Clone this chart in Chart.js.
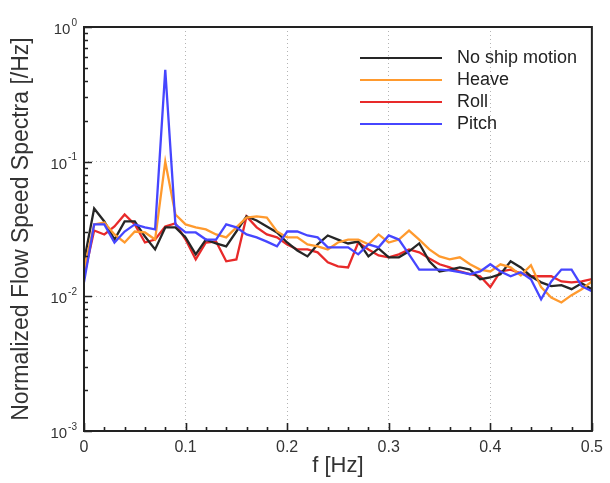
<!DOCTYPE html>
<html>
<head>
<meta charset="utf-8">
<script src="https://cdn.jsdelivr.net/npm/chart.js@4.4.1/dist/chart.umd.min.js"></script>
<style>
  html, body { margin: 0; padding: 0; background: #fff; }
</style>
</head>
<body>
<canvas id="chart" width="610" height="483"></canvas>
<script>
const freq = [0, 0.01, 0.02, 0.03, 0.04, 0.05, 0.06, 0.07, 0.08, 0.09,
  0.1, 0.11, 0.12, 0.13, 0.14, 0.15, 0.16, 0.17, 0.18, 0.19,
  0.2, 0.21, 0.22, 0.23, 0.24, 0.25, 0.26, 0.27, 0.28, 0.29,
  0.3, 0.31, 0.32, 0.33, 0.34, 0.35, 0.36, 0.37, 0.38, 0.39,
  0.4, 0.41, 0.42, 0.43, 0.44, 0.45, 0.46, 0.47, 0.48, 0.49, 0.5];

const noMotion = [0.0182, 0.0449, 0.036, 0.0264, 0.036, 0.036, 0.0278, 0.0223, 0.0325, 0.0325,
  0.0274, 0.0205, 0.0264, 0.0247, 0.0235, 0.0303, 0.0392, 0.0366, 0.033, 0.0298,
  0.0251, 0.0219, 0.0198, 0.0243, 0.0283, 0.0264, 0.0247, 0.0255, 0.0198, 0.0227,
  0.0195, 0.0195, 0.0216, 0.0247, 0.0182, 0.0153, 0.0158, 0.0164, 0.0158, 0.0134,
  0.0138, 0.0146, 0.0182, 0.0164, 0.0141, 0.0127, 0.0119, 0.0121, 0.0113, 0.0125, 0.0113];

const heave = [0.0158, 0.0342, 0.0354, 0.0288, 0.0251, 0.0303, 0.0298, 0.0264, 0.1, 0.0405,
  0.0342, 0.0325, 0.0314, 0.0288, 0.0274, 0.0325, 0.0385, 0.0392, 0.0385, 0.0303,
  0.0274, 0.0274, 0.0243, 0.0235, 0.0223, 0.0251, 0.0264, 0.0264, 0.0243, 0.0288,
  0.0251, 0.0264, 0.0308, 0.0264, 0.0223, 0.0198, 0.0188, 0.0195, 0.0173, 0.0158,
  0.0153, 0.0173, 0.0164, 0.0143, 0.017, 0.0117, 0.0098, 0.009, 0.0102, 0.0113, 0.0129];

const roll = [0.0141, 0.0308, 0.0288, 0.033, 0.0405, 0.0342, 0.0251, 0.0264, 0.033, 0.0348,
  0.0264, 0.0188, 0.0251, 0.0255, 0.0182, 0.0188, 0.0392, 0.0325, 0.0288, 0.0274,
  0.0243, 0.0223, 0.0223, 0.0212, 0.0179, 0.0167, 0.0164, 0.0251, 0.0223, 0.0201,
  0.0195, 0.0205, 0.0223, 0.0212, 0.0191, 0.0173, 0.0164, 0.0153, 0.0146, 0.0141,
  0.0117, 0.0153, 0.0158, 0.0148, 0.0141, 0.0141, 0.0141, 0.0129, 0.0127, 0.0129, 0.0134];

const pitch = [0.0127, 0.0342, 0.0342, 0.0251, 0.0303, 0.0342, 0.0325, 0.0314, 0.48, 0.0342,
  0.0298, 0.0298, 0.0264, 0.0264, 0.0342, 0.0325, 0.0288, 0.0274, 0.0255, 0.0235,
  0.0303, 0.0303, 0.0283, 0.0274, 0.0231, 0.0231, 0.0231, 0.0205, 0.0243, 0.0231,
  0.0283, 0.0264, 0.0205, 0.0158, 0.0158, 0.0158, 0.0156, 0.0151, 0.0146, 0.0153,
  0.0173, 0.0153, 0.0141, 0.0151, 0.0134, 0.0095, 0.0129, 0.0158, 0.0158, 0.0119, 0.0109];

const seriesNames = ["No ship motion", "Heave", "Roll", "Pitch"];
const seriesColors = ["#262626", "#ff9a2e", "#e82a2a", "#4646ff"];
const yDecades = [0.001, 0.01, 0.1, 1];
const yExponents = ["-3", "-2", "-1", "0"];

const toPoints = (values) => freq.map((f, i) => ({ x: f, y: values[i] }));

const isDecade = (v) => {
  const l = Math.log10(v);
  return Math.abs(l - Math.round(l)) < 1e-6;
};

// frame, inward ticks, y labels with exponents, legend inside the plot
const decorations = {
  id: "decorations",
  afterDraw(chart) {
    const { ctx, chartArea: a, scales: { x, y } } = chart;
    ctx.save();
    ctx.strokeStyle = "#222";
    ctx.lineWidth = 1.6;
    ctx.beginPath();
    for (let i = 0; i <= 25; i++) {
      const px = Math.round(x.getPixelForValue(i * 0.02)) + 0.5;
      const len = i % 5 === 0 ? 8 : 4;
      ctx.moveTo(px, a.bottom);
      ctx.lineTo(px, a.bottom - len);
    }
    for (let e = -3; e <= 0; e++) {
      for (let m = 1; m <= 9; m++) {
        if (e === 0 && m > 1) break;
        const py = Math.round(y.getPixelForValue(m * Math.pow(10, e))) + 0.5;
        const len = m === 1 ? 8 : 4;
        ctx.moveTo(a.left, py);
        ctx.lineTo(a.left + len, py);
      }
    }
    ctx.stroke();

    ctx.lineWidth = 2;
    ctx.strokeRect(a.left, a.top, a.right - a.left, a.bottom - a.top);

    // y tick labels: 10 with a raised exponent
    ctx.fillStyle = "#333";
    ctx.textBaseline = "middle";
    const right = a.left - 7;
    yDecades.forEach((v, i) => {
      const py = y.getPixelForValue(v);
      ctx.font = "10px 'Liberation Sans', Arial, sans-serif";
      const ew = ctx.measureText(yExponents[i]).width;
      ctx.textAlign = "left";
      ctx.fillText(yExponents[i], right - ew, py - 4);
      ctx.font = "15px 'Liberation Sans', Arial, sans-serif";
      ctx.textAlign = "right";
      ctx.fillText("10", right - ew - 1, py + 3);
    });

    // legend
    ctx.font = "18px 'Liberation Sans', Arial, sans-serif";
    ctx.textAlign = "left";
    seriesNames.forEach((name, i) => {
      const ly = a.top + 31 + i * 22;
      ctx.strokeStyle = seriesColors[i];
      ctx.lineWidth = 2.2;
      ctx.beginPath();
      ctx.moveTo(a.left + 276, ly);
      ctx.lineTo(a.left + 358, ly);
      ctx.stroke();
      ctx.fillStyle = "#222";
      ctx.fillText(name, a.left + 373, ly);
    });
    ctx.restore();
  },
};

const makeDataset = (label, values, color, order) => ({
  label,
  data: toPoints(values),
  borderColor: color,
  backgroundColor: color,
  borderWidth: 2.3,
  pointRadius: 0,
  tension: 0,
  fill: false,
  order,
});

new Chart(document.getElementById("chart"), {
  type: "line",
  data: {
    datasets: [
      makeDataset(seriesNames[0], noMotion, seriesColors[0], 3),
      makeDataset(seriesNames[1], heave, seriesColors[1], 2),
      makeDataset(seriesNames[2], roll, seriesColors[2], 4),
      makeDataset(seriesNames[3], pitch, seriesColors[3], 1),
    ],
  },
  options: {
    responsive: false,
    animation: false,
    layout: { padding: { top: 27, right: 16, left: 0, bottom: 0 } },
    plugins: {
      legend: { display: false },
      tooltip: { enabled: false },
    },
    scales: {
      x: {
        type: "linear",
        min: 0,
        max: 0.5,
        border: { display: false, dash: [1, 3] },
        grid: { drawTicks: false, color: "#b4b4b4", lineWidth: 1 },
        ticks: {
          stepSize: 0.1,
          padding: 7,
          color: "#333",
          font: { size: 16, family: "'Liberation Sans', Arial, sans-serif" },
          maxRotation: 0,
        },
        title: {
          display: true,
          text: "f [Hz]",
          color: "#333",
          font: { size: 22, family: "'Liberation Sans', Arial, sans-serif" },
          padding: { top: 0, bottom: 4 },
        },
        afterFit: (scale) => { scale.height = 52; },
      },
      y: {
        type: "logarithmic",
        min: 0.001,
        max: 1,
        border: { display: false, dash: [1, 3] },
        grid: {
          drawTicks: false,
          lineWidth: 1,
          color: (c) => (c.tick && isDecade(c.tick.value) ? "#b4b4b4" : "rgba(0,0,0,0)"),
        },
        ticks: { display: false },
        title: {
          display: true,
          text: "Normalized Flow Speed Spectra [/Hz]",
          color: "#333",
          font: { size: 23, family: "'Liberation Sans', Arial, sans-serif" },
          padding: { top: 8, bottom: 0 },
        },
        afterFit: (scale) => { scale.width = 84; },
      },
    },
  },
  plugins: [decorations],
});
</script>
</body>
</html>
